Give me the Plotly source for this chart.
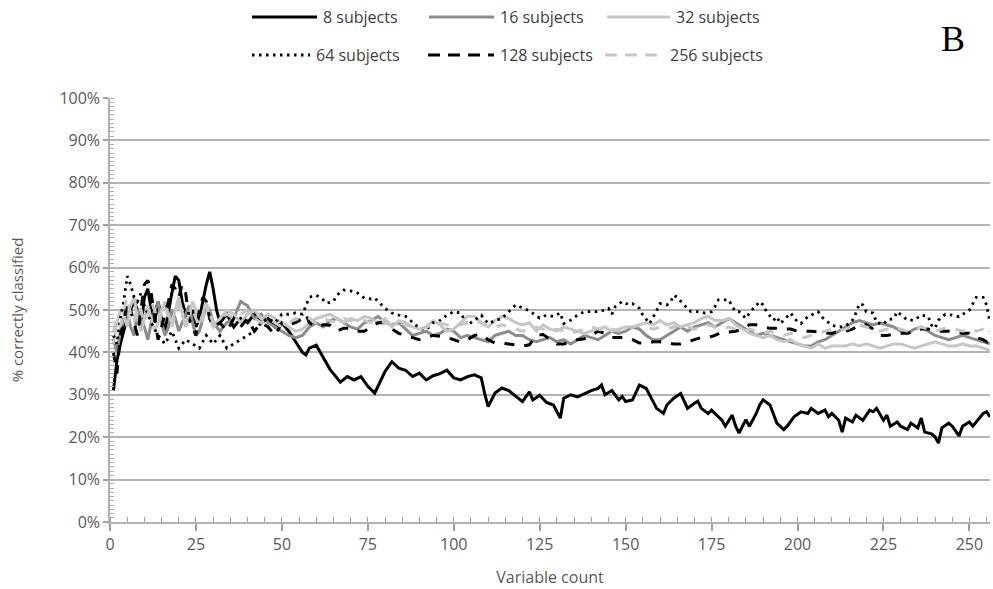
import plotly.graph_objects as go

# ---- data: (variable count, % correctly classified) ----
S8 = [(1,31),(2,38),(3,42),(4,45),(5,48),(6,50),(7,52),(8,50),(9,46),(10,53),(11,55),(12,50),(13,47),(14,52),
      (15,48),(16,45),(17,50),(18,54),(19,58),(20,57),(21,52),(22,49),(23,47),(24,50),(25,46),(26,48),(27,52),
      (28,56),(29,59),(30,55),(31,50),(32,47),(34,49),(36,46),(38,48),(40,47),(42,49),(44,47),(46,48),(48,46),
      (50,47),(52,45),(54,42.5),(56,40),(57,39.4),(58,41),(60,41.7),(62,38.7),(64,36),(65,35),(67,33),(69,34.3),
      (71,33.5),(73,34.3),(75,32),(77,30.4),(79,34),(80,35.5),(82,37.8),(84,36.3),(86,35.8),(88,34.3),(90,35.1),
      (92,33.5),(94,34.5),(96,35),(98,35.8),(100,34),(102,33.5),(104,34.3),(106,34.7),(108,34),(109,30.3),
      (110,27.2),(112,30.4),(114,31.6),(116,31),(118,29.6),(120,28.4),(122,30.7),(123,28.8),(125,29.9),
      (127,28.2),(129,27.6),(131,24.5),(132,29.2),(134,30),(136,29.5),(138,30.3),(140,31),(142,31.5),(143,32.3),
      (144,30),(146,31),(148,28.8),(149,29.6),(150,28.4),(152,28.8),(154,32.3),(156,31.5),(158,28.4),(159,26.8),
      (161,25.6),(162,27.6),(164,29.2),(166,30.3),(167,28.6),(168,26.8),(170,28),(171,28.5),(172,26.8),
      (174,25.6),(175,26.4),(177,24.8),(178,24),(179,22.6),(181,25.2),(182,22.6),(183,21),(184,22.6),(185,24.1),
      (186,22.6),(188,25.6),(189,27.6),(190,28.8),(192,27.6),(193,25.6),(194,23.3),(196,21.8),(197,22.6),
      (199,24.8),(201,26),(203,25.6),(204,26.8),(206,25.6),(208,26.4),(209,24.8),(210,25.6),(212,24),(213,21.2),
      (214,24.5),(216,23.6),(217,25.2),(219,24),(221,26.4),(222,26),(223,26.8),(225,24),(226,25.2),(227,22.6),
      (229,23.6),(230,22.6),(232,21.8),(233,23.3),(235,22.2),(236,24.5),(237,21.2),(239,20.8),(240,20.1),
      (241,18.6),(242,22.2),(244,23.3),(245,22.6),(247,20.3),(248,22.6),(250,23.6),(251,22.6),(253,24.5),
      (254,25.6),(255,26),(256,24.8)]

S16 = [(1,43),(2,40),(3,45),(4,48),(5,50),(6,46),(7,44),(8,50),(9,48),(10,46),(11,43),(12,47),(13,50),(14,52),
       (15,47),(16,44),(17,46),(18,50),(19,48),(20,45),(21,47),(22,49),(23,51),(24,47),(25,44),(26,45),(27,48),
       (28,51),(29,50),(30,47),(32,45),(34,47),(36,48),(38,52),(40,51),(42,48),(44,49),(46,47),(48,46),(50,45),
       (52,44),(54,43.5),(56,44),(58,46),(60,47),(62,46),(64,47.5),(66,48),(68,47),(70,46),(72,45.5),(74,47),
       (76,47.5),(78,48.5),(80,47),(82,46.5),(84,47),(86,45.5),(88,44),(90,44.5),(92,45),(94,44),(96,44.5),
       (98,45.5),(100,45),(102,43.5),(104,44),(106,43.5),(108,43),(110,42.5),(112,44),(114,44.5),(116,45),
       (118,44),(120,44),(122,43),(124,42.5),(126,43),(128,43.5),(130,42.5),(132,43),(134,42),(136,43),(138,44),
       (140,43.5),(142,43),(144,44),(146,45),(148,44.5),(150,45),(152,46),(154,45.5),(156,44),(158,43),(160,43),
       (162,44),(164,45),(166,46),(168,45),(170,46),(172,46.5),(174,47),(176,46),(178,47),(180,48),(182,47),
       (184,46),(186,45),(188,44),(190,44.5),(192,44),(194,43.5),(196,43),(198,42.5),(200,42),(202,41.5),
       (204,41.5),(206,42.5),(208,43),(210,44),(212,45),(214,46),(216,47),(218,47.5),(220,47),(222,46.5),
       (224,47),(226,46.5),(228,46),(230,45),(232,44.5),(234,45.5),(236,46),(238,45),(240,44),(242,43.5),
       (244,43),(246,43.5),(248,44),(250,43.5),(252,43),(254,42.5),(256,42)]

S32 = [(1,42),(2,47),(3,50),(4,49),(5,46),(6,51),(7,53),(8,48),(9,45),(10,48),(11,51),(12,48),(13,45),(14,47),
       (15,50),(16,52),(17,49),(18,47),(19,50),(20,53),(21,49),(22,46),(23,48),(24,52),(25,50),(26,47),(27,49),
       (28,52),(29,48),(30,46),(32,48),(34,50),(36,49),(38,47),(40,49),(42,50),(44,48),(46,49),(48,48),(50,47),
       (52,46),(54,45),(56,45.5),(58,47),(60,48),(62,48.5),(64,49),(66,48),(68,47),(70,48),(72,47.5),(74,48.5),
       (76,48),(78,47),(80,48),(82,46),(84,47.5),(86,47),(88,46),(90,45.5),(92,46),(94,47.5),(96,46.5),(98,45),
       (100,45.5),(102,47),(104,48.5),(106,48.5),(108,47),(110,46),(112,47.5),(114,48.5),(116,48),(118,47),
       (120,46.5),(122,47),(124,45),(126,46.5),(128,45.5),(130,45),(132,46),(134,45.5),(136,45),(138,44.5),
       (140,45),(142,45.5),(144,46),(146,45),(148,45.5),(150,46),(152,46),(154,46.5),(156,47),(158,46.5),
       (160,47.5),(162,46.5),(164,47),(166,46),(168,46.5),(170,47),(172,48),(174,48.5),(176,47.5),(178,47.5),
       (180,48),(182,46.5),(184,45.5),(186,44.5),(188,44),(190,43.5),(192,44),(194,43),(196,42.5),(198,43),
       (200,42),(202,41.5),(204,41),(206,42),(208,41),(210,41.5),(212,41.5),(214,41.5),(216,42),(218,41.5),
       (220,42),(222,41.5),(224,41),(226,41.5),(228,42),(230,42),(232,41.5),(234,41),(236,41.5),(238,42),
       (240,42.5),(242,42),(244,41.5),(246,41.5),(248,42),(250,41.5),(252,41.5),(254,41),(256,40.5)]

S64 = [(1,44),(2,42),(3,48),(4,52),(5,58),(6,56),(7,53),(8,52),(9,54),(10,51),(12,47),(14,44),(16,42),(18,45),
       (20,41),(22,43),(24,42),(26,41),(28,44),(30,42),(32,44),(34,41),(36,42),(38,43),(40,44),(42,45),(44,47),
       (46,48),(48,47),(50,49),(52,49),(54,49.3),(56,49),(57,51),(58,53),(60,53.5),(62,52.4),(63,51.6),(65,52),
       (66,53.5),(68,54.7),(70,54.5),(72,54),(74,52.8),(76,52.6),(77,52.8),(79,51.2),(80,50.4),(82,49.3),
       (84,48.8),(86,48.5),(88,47),(90,45.7),(92,45.3),(94,47),(96,47.5),(98,48.8),(100,49.6),(102,49.3),
       (104,46.4),(106,47.6),(108,48.8),(110,46.8),(112,47.5),(114,48),(116,49.6),(118,51.2),(120,50.5),
       (122,49.8),(124,48.6),(125,48.1),(127,48.8),(129,48.5),(131,49.3),(132,46.8),(134,47.6),(136,48.8),
       (138,49.6),(140,49.6),(142,49.6),(144,50),(145,50.4),(146,49),(147,50.8),(149,52),(151,51.2),(152,51.5),
       (154,50.4),(155,48.8),(157,46.8),(159,49.8),(160,51.5),(162,51.2),(163,51.8),(164,53.5),(165,53),
       (167,51.2),(169,49.6),(171,49.6),(173,49.3),(175,49.6),(176,50.8),(177,52.4),(179,52.4),(180,52.4),
       (181,50.8),(182,49.6),(183,49.6),(185,48),(186,49.3),(188,51.2),(189,52),(190,51.2),(191,49.6),
       (193,47.6),(194,48.4),(195,46.8),(197,48.4),(198,49.3),(200,47.2),(201,46.8),(203,48.4),(204,48.8),
       (206,49.6),(207,48.4),(209,47.2),(210,46.4),(212,46),(214,46.2),(216,47.6),(217,49.3),(218,51.5),
       (219,51.2),(220,49.6),(222,49.3),(223,47),(225,46.6),(226,47.6),(228,48),(229,49.6),(230,49),(232,47.6),
       (234,47.6),(236,48.8),(238,48.5),(239,46.4),(240,45.7),(241,47.6),(243,49),(245,48.8),(247,48.4),
       (248,49),(250,50),(251,51.5),(252,53),(254,53),(255,51.2),(256,47)]

S128 = [(1,40),(2,35),(3,44),(4,47),(5,52),(6,50),(7,47),(8,44),(9,50),(10,56),(11,57),(12,54),(13,48),(14,43),
        (15,46),(16,49),(17,52),(18,56),(19,55),(20,53),(21,56),(22,54),(23,48),(24,46),(25,44),(26,50),(27,53),
        (28,52),(29,48),(30,46),(32,47),(34,45),(36,48),(38,46),(40,48),(42,45),(44,47),(46,46),(48,44),(50,47),
        (52,46.5),(54,47),(56,48),(57,49),(58,47),(60,46),(62,46.5),(64,46.4),(66,45),(68,45.7),(70,45.7),
        (72,45),(74,45),(76,46),(78,47),(80,47),(82,45.5),(84,44.5),(86,44),(88,43.5),(90,43),(92,43.5),(94,44),
        (96,43.8),(98,43.5),(100,43),(102,42.4),(104,43),(106,44),(108,44.3),(110,43),(112,42.2),(114,42.2),
        (116,42),(118,41.8),(120,41.5),(122,41.8),(124,44),(126,44.2),(128,43),(130,42),(132,42),(134,42.5),
        (136,43),(138,43.2),(140,44),(142,45),(144,44.5),(146,43.5),(148,43.5),(150,43.5),(152,43),(154,42.2),
        (156,42.2),(158,42.5),(160,42.5),(162,42.3),(164,42),(166,42),(168,42.5),(170,43),(172,43.5),(174,43.5),
        (176,44),(178,44.8),(180,44.8),(182,45),(184,45.5),(186,46.5),(188,46.5),(190,46),(192,45.7),(194,45.7),
        (196,45.5),(198,45.5),(200,45),(202,45),(204,45),(206,44.8),(208,44.5),(210,44.5),(212,45),(214,45),
        (216,45.5),(218,46.5),(220,46.5),(222,45.5),(224,44),(226,44),(228,44.2),(230,44.5),(232,44.5),(234,45),
        (236,45.5),(238,45.5),(240,45),(242,45),(244,45),(246,44.8),(248,44.5),(250,44.5),(252,43.5),(254,43),
        (255,42.5),(256,45)]

S256 = [(1,45),(2,48),(3,46),(4,50),(5,53),(6,49),(7,47),(8,51),(9,50),(10,47),(11,49),(12,52),(13,50),(14,47),
        (15,49),(16,51),(17,48),(18,46),(19,49),(20,51),(21,50),(22,47),(23,49),(24,50),(25,48),(26,46),(27,48),
        (28,50),(29,49),(30,47),(32,48),(34,49),(36,48),(38,49),(40,50),(42,48),(44,47),(46,48),(48,47),(50,46),
        (52,47),(54,48),(56,47.5),(58,48),(60,47),(62,48),(64,47.5),(66,47),(68,48),(70,47.5),(72,48),(74,47.5),
        (76,47),(78,47.5),(80,47),(82,46.5),(84,47),(86,46.5),(88,46),(90,45.5),(92,46),(94,46.5),(96,47),
        (98,46.5),(100,46),(102,46.5),(104,47),(106,47.5),(108,47),(110,46.5),(112,46),(114,46.5),(116,46),
        (118,45.5),(120,45),(122,45.5),(124,46),(126,45.5),(128,45),(130,45.5),(132,45),(134,44.5),(136,45),
        (138,45.5),(140,46),(142,45.5),(144,45),(146,45.5),(148,45),(150,45.5),(152,46),(154,46.5),(156,46),
        (158,45.5),(160,46),(162,45.5),(164,46),(166,46.5),(168,46),(170,45.5),(172,46),(174,46.5),(176,46),
        (178,45.5),(180,46),(182,45.5),(184,45),(186,45.5),(188,45),(190,44.5),(192,45),(194,44.5),(196,44),
        (198,44.5),(200,44),(202,43.5),(204,44),(206,44.5),(208,45),(210,45.5),(212,45),(214,45.5),(216,46),
        (218,46.5),(220,46),(222,45.5),(224,45),(226,45.5),(228,46),(230,45.5),(232,45),(234,45.5),(236,46),
        (238,45.5),(240,45),(242,45.5),(244,46),(246,45.5),(248,45),(250,45.5),(252,45),(254,45.5),(256,46)]

SERIES_NAMES = ["8 subjects", "16 subjects", "32 subjects", "64 subjects", "128 subjects", "256 subjects"]
X_TICKS = [0, 25, 50, 75, 100, 125, 150, 175, 200, 225, 250]
Y_TICKS = [0, 10, 20, 30, 40, 50, 60, 70, 80, 90, 100]

# ---- styles ----
DASH = "10px,10px"
STYLES = [
    dict(color="#000000", width=3, dash="solid"),
    dict(color="#8c8c8c", width=3, dash="solid"),
    dict(color="#c6c6c6", width=3, dash="solid"),
    dict(color="#000000", width=2.8, dash="2.5px,4.5px"),
    dict(color="#000000", width=3, dash=DASH),
    dict(color="#c6c6c6", width=3, dash=DASH),
]
ALL = [S8, S16, S32, S64, S128, S256]

W, H = 993, 589
L, R, T, B = 110, 3, 98, 67
PW, PH = W - L - R, H - T - B

fig = go.Figure()
for name, s, st in zip(SERIES_NAMES, ALL, STYLES):
    fig.add_trace(go.Scatter(
        x=[p[0] for p in s], y=[p[1] for p in s], name=name, mode="lines",
        line=dict(color=st["color"], width=st["width"], dash=st["dash"]),
        showlegend=False, hoverinfo="skip"))

# ---- manual legend (pixel layout) ----
def px_x(px):
    return (px - L) / PW

def px_y(py):
    return (H - B - py) / PH

LEG_POS = [(252, 317, 17), (429, 494, 17), (607, 670, 17),
           (252, 310, 55), (428, 494, 55), (605, 664, 55)]
shapes = []
annotations = []
for name, st, (x0, x1, yy) in zip(SERIES_NAMES, STYLES, LEG_POS):
    dash = st["dash"]
    if dash == DASH:
        dash = "12px,8px"
    shapes.append(dict(type="line", xref="paper", yref="paper",
                       x0=px_x(x0), x1=px_x(x1), y0=px_y(yy), y1=px_y(yy),
                       line=dict(color=st["color"], width=st["width"], dash=dash)))
    annotations.append(dict(text=name, xref="paper", yref="paper", x=px_x(x1 + 4), y=px_y(yy),
                            xanchor="left", yanchor="middle", showarrow=False,
                            font=dict(family="Open Sans", size=16, color="#404040")))

annotations.append(dict(text="B", xref="paper", yref="paper", x=px_x(953), y=px_y(39),
                        xanchor="center", yanchor="middle", showarrow=False,
                        font=dict(family="Liberation Serif", size=36, color="#000000")))

fig.update_layout(
    width=W, height=H,
    margin=dict(l=L, r=R, t=T, b=B),
    paper_bgcolor="white", plot_bgcolor="white",
    shapes=shapes, annotations=annotations,
    font=dict(family="Open Sans", color="#595959", size=16),
    xaxis=dict(
        range=[0, 256], tickmode="array", tickvals=X_TICKS, ticktext=[str(v) for v in X_TICKS],
        showgrid=False, zeroline=False, showline=True, linecolor="#b0b0b0", linewidth=2,
        ticks="outside", ticklen=7, tickwidth=1.5, tickcolor="#a0a0a0",
        minor=dict(dtick=5, tick0=0, ticks="inside", ticklen=5, tickcolor="#a0a0a0", tickwidth=1, showgrid=False),
        tickfont=dict(family="Open Sans", size=16, color="#595959"),
        title=dict(text="Variable count", font=dict(family="Open Sans", size=16, color="#595959"), standoff=18),
    ),
    yaxis=dict(
        range=[0, 100], tickmode="array", tickvals=Y_TICKS, ticktext=[f"{v}%" for v in Y_TICKS],
        showgrid=True, gridcolor="#b4b4b4", gridwidth=1.6, zeroline=False,
        showline=True, linecolor="#b0b0b0", linewidth=1.5,
        ticks="outside", ticklen=5, tickwidth=1.5, tickcolor="#a0a0a0",
        minor=dict(dtick=1, tick0=0, ticks="inside", ticklen=4, tickcolor="#b0b0b0", tickwidth=1, showgrid=False),
        tickfont=dict(family="Open Sans", size=16, color="#595959"),
        title=dict(text="% correctly classified", font=dict(family="Open Sans", size=15, color="#595959"), standoff=32),
    ),
)

fig.write_html("out.html")
